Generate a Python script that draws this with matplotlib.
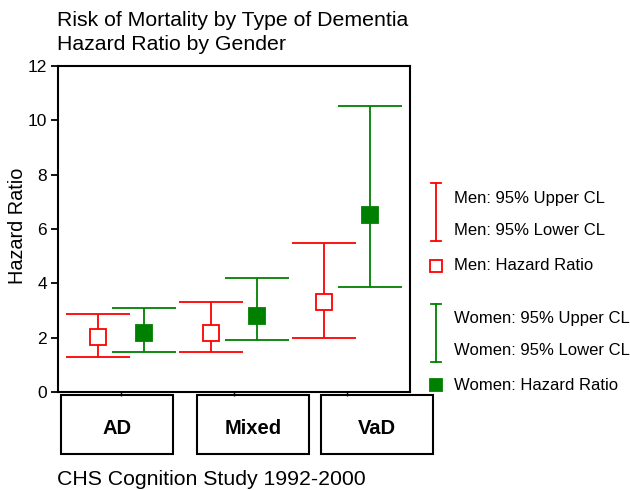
import matplotlib
matplotlib.use('Agg')
import matplotlib.pyplot as plt
from matplotlib.lines import Line2D
from matplotlib.patches import Rectangle
import numpy as np

plt.rcParams['font.family'] = ['Liberation Sans', 'DejaVu Sans']

groups = ['AD', 'Mixed', 'VaD']
men_hr = [2.02, 2.17, 3.31]
men_lo = [1.29, 1.47, 1.99]
men_hi = [2.87, 3.31, 5.48]
women_hr = [2.17, 2.80, 6.51]
women_lo = [1.47, 1.91, 3.86]
women_hi = [3.09, 4.20, 10.53]

RED = '#ff0000'
GREEN = '#008000'

fig = plt.figure(figsize=(6.3, 4.9), dpi=100)
W, H = 630, 490
ax = fig.add_axes([58 / W, 1 - 392 / H, 352 / W, 326 / H])

x = np.arange(1, len(groups) + 1)
off = 0.205

def draw(xs, hr, lo, hi, col, filled):
    hr = np.array(hr); lo = np.array(lo); hi = np.array(hi)
    ax.errorbar(xs, hr, yerr=[hr - lo, hi - hr], fmt='none', ecolor=col,
                elinewidth=1.3, capsize=23, capthick=1.3, zorder=2)
    ax.plot(xs, hr, 's', ms=11, mec=col, mew=1.3,
            mfc=col if filled else 'white', ls='none', zorder=3)

draw(x - off, men_hr, men_lo, men_hi, RED, False)
draw(x + off, women_hr, women_lo, women_hi, GREEN, True)

ax.set_xlim(0.44, 3.56)
ax.set_ylim(0, 12)
ax.set_yticks(range(0, 13, 2))
ax.set_xticks(x)
ax.set_xticklabels([])
ax.tick_params(axis='y', direction='out', length=5, width=1.3, labelsize=12.5, pad=3)
ax.tick_params(axis='x', direction='out', length=3, width=1)
for s in ax.spines.values():
    s.set_linewidth(1.5)

fig.text(18 / W, 1 - 226 / H, 'Hazard Ratio', fontsize=14.3, rotation=90,
         ha='center', va='center')

fig.text(57 / W, 1 - 20 / H, 'Risk of Mortality by Type of Dementia', fontsize=15.3,
         va='center', ha='left')
fig.text(57 / W, 1 - 45 / H, 'Hazard Ratio by Gender', fontsize=15.3,
         va='center', ha='left')
fig.text(57 / W, 1 - 479 / H, 'CHS Cognition Study 1992-2000', fontsize=15.3,
         va='center', ha='left')

# category boxes
box_x = [61, 197, 321]
for bx, g in zip(box_x, groups):
    fig.add_artist(Rectangle((bx / W, 1 - 454 / H), 112 / W, 59 / H,
                             transform=fig.transFigure, fill=False,
                             lw=1.5, ec='black'))
    fig.text((bx + 56) / W, 1 - 428 / H, g, fontsize=14.5, fontweight='bold',
             ha='center', va='center')

# legend
def leg_bar(y0, y1, col):
    lx = 436 / W
    fig.add_artist(Line2D([lx, lx], [1 - y0 / H, 1 - y1 / H], color=col, lw=1.3,
                          transform=fig.transFigure))
    for yy in (y0, y1):
        fig.add_artist(Line2D([431 / W, 441 / W], [1 - yy / H, 1 - yy / H],
                              color=col, lw=1.3, transform=fig.transFigure))

def leg_sq(y, col, filled):
    fig.add_artist(Line2D([436 / W], [1 - y / H], marker='s', ms=9, mec=col,
                          mew=1.3, mfc=col if filled else 'white', ls='none',
                          transform=fig.transFigure))

leg_bar(183, 241, RED)
leg_sq(266, RED, False)
leg_bar(304, 362, GREEN)
leg_sq(385, GREEN, True)

labels = [(199, 'Men: 95% Upper CL'), (230, 'Men: 95% Lower CL'),
          (266, 'Men: Hazard Ratio'), (318, 'Women: 95% Upper CL'),
          (350, 'Women: 95% Lower CL'), (385, 'Women: Hazard Ratio')]
for yy, t in labels:
    fig.text(454 / W, 1 - yy / H, t, fontsize=12, ha='left', va='center')

fig.savefig('out.png', dpi=100)
